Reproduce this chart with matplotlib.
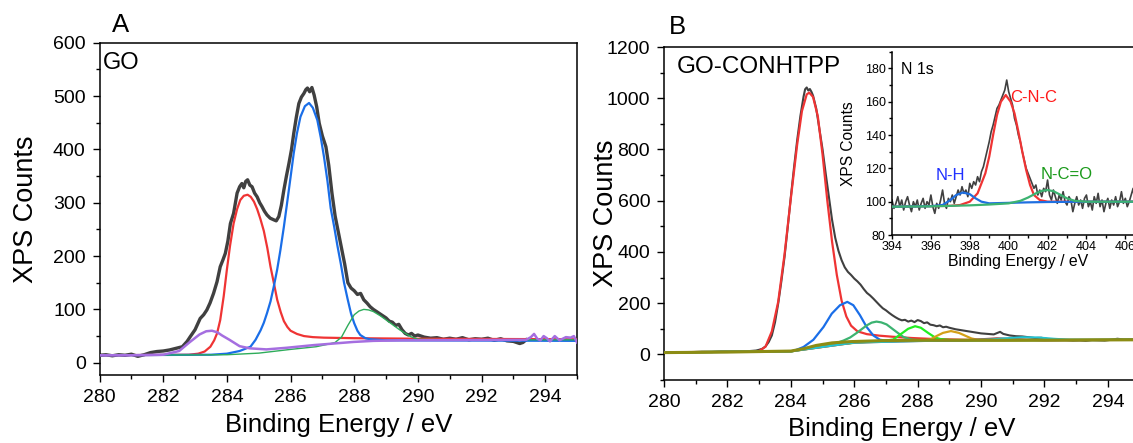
"""XPS C 1s spectra of GO and GO-CONHTPP with N 1s inset."""

import matplotlib

matplotlib.use("Agg")
import matplotlib.pyplot as plt
from matplotlib.ticker import MultipleLocator

plt.rcParams["font.family"] = ["Liberation Sans", "DejaVu Sans"]

# ---- panel A: GO, C 1s ----
a_data_x = [280.0, 280.2, 280.4, 280.6, 280.8, 281.0, 281.2, 281.4, 281.6, 281.8, 282.0, 282.2, 282.4,
            282.6, 282.75, 282.85, 283.0, 283.16, 283.27, 283.37, 283.47, 283.58, 283.69, 283.79, 283.87,
            283.95, 284.03, 284.11, 284.21, 284.32, 284.4, 284.47, 284.53, 284.59, 284.65, 284.72, 284.79,
            284.87, 284.95, 285.03, 285.1, 285.18, 285.26, 285.36, 285.47, 285.55, 285.63, 285.71, 285.79,
            285.87, 285.95, 286.03, 286.1, 286.18, 286.26, 286.34, 286.42, 286.48, 286.53, 286.6, 286.67,
            286.74, 286.82, 286.9, 287.0, 287.11, 287.2, 287.3, 287.4, 287.5, 287.6, 287.7, 287.8, 287.9,
            288.0, 288.1, 288.2, 288.3, 288.4, 288.5, 288.6, 288.7, 288.8, 288.9, 289.0, 289.1, 289.2,
            289.3, 289.4, 289.5, 289.6, 289.7, 289.8, 289.9, 290.0, 290.2, 290.4, 290.6, 290.8, 291.0,
            291.2, 291.4, 291.6, 291.8, 292.0, 292.2, 292.4, 292.6, 292.8, 293.0, 293.2, 293.3, 293.4]
a_data_y = [14, 15, 13, 15, 14, 16, 12, 15, 19, 21, 22, 24, 27,
            30, 40, 49, 62, 83, 90, 99, 112, 130, 152, 180, 192,
            205, 228, 261, 280, 318, 330, 336, 328, 340, 343, 333, 330,
            318, 311, 300, 293, 284, 277, 271, 268, 266, 274, 295, 324,
            350, 374, 400, 430, 460, 486, 498, 505, 512, 515, 508, 516,
            502, 480, 449, 425, 405, 370, 318, 275, 245, 215, 185, 150, 140,
            135, 128, 130, 118, 112, 105, 100, 96, 92, 88, 84, 78, 76,
            70, 72, 62, 55, 52, 55, 50, 52, 48, 46, 47, 44, 46,
            44, 47, 43, 45, 44, 46, 42, 45, 41, 40, 36, 38, 43]

a_red_x = [280.0, 282.8, 283.1, 283.3, 283.48, 283.6, 283.69, 283.79, 283.9, 284.0, 284.1, 284.21,
           284.32, 284.42, 284.53, 284.65, 284.75, 284.85, 284.95, 285.05, 285.16, 285.27, 285.37,
           285.48, 285.58, 285.69, 285.79, 285.9, 286.0, 286.2, 286.42, 286.7, 287.05, 288.0, 290.0,
           295.0]
a_red_y = [14, 15, 17, 21, 30, 42, 55, 80, 125, 175, 220, 261,
           288, 305, 313, 315, 311, 302, 288, 270, 247, 215, 180,
           148, 118, 95, 78, 67, 60, 54, 50, 48, 47, 46, 45,
           44]

a_blue_x = [280.0, 283.5, 284.0, 284.4, 284.74, 284.9, 285.06, 285.16, 285.26, 285.37, 285.47, 285.58,
            285.68, 285.79, 285.89, 286.0, 286.1, 286.2, 286.31, 286.45, 286.58, 286.7, 286.84, 286.95,
            287.05, 287.16, 287.26, 287.37, 287.47, 287.58, 287.68, 287.79, 287.9, 288.0, 288.1, 288.19,
            288.35, 288.5, 289.0, 295.0]
a_blue_y = [14, 15, 17, 22, 30, 43, 61, 75, 93, 115, 142, 175,
            211, 255, 299, 348, 393, 430, 461, 481, 487, 478, 455, 422,
            386, 340, 290, 255, 220, 185, 150, 120, 92, 74, 60, 52,
            46, 44, 42, 41]

a_green_x = [280.0, 284.0, 285.0, 286.0, 286.8, 287.2, 287.4, 287.6, 287.8, 288.0, 288.15, 288.3,
             288.45, 288.6, 288.82, 289.1, 289.42, 289.77, 290.0, 291.0, 295.0]
a_green_y = [14, 15, 18, 25, 30, 35, 38, 48, 70, 90, 97, 100,
             99, 96, 88, 76, 62, 49, 44, 43, 43]

a_purple_x = [280.0, 281.0, 282.0, 282.5, 282.82, 283.14, 283.35, 283.53, 283.7, 283.85, 284.08,
              284.4, 284.72, 285.24, 285.87, 286.72, 287.35, 287.98, 288.6, 289.5, 293.4,
              293.55, 293.65, 293.75, 293.85, 293.95, 294.05, 294.15, 294.3, 294.45, 294.55,
              294.65, 294.8, 294.9, 295.0]
a_purple_y = [14, 14, 15, 22, 38, 53, 59, 60, 57, 51, 43,
              31, 27, 25, 28, 33, 36, 39, 41, 42, 43,
              48, 54, 45, 42, 50, 46, 40, 50, 42, 45,
              48, 47, 50, 38]

# ---- panel B: GO-CONHTPP, C 1s ----
b_data_x = [280.0, 280.3, 280.6, 280.9, 281.2, 281.5, 281.8, 282.1, 282.4, 282.7, 282.9, 283.0,
            283.1, 283.2, 283.3, 283.4, 283.5, 283.6, 283.7, 283.8, 283.9, 284.0, 284.1, 284.2,
            284.3, 284.4, 284.45, 284.5, 284.55, 284.6, 284.65, 284.7, 284.8, 284.9, 285.0, 285.1,
            285.2, 285.3, 285.4, 285.5, 285.6, 285.7, 285.8, 285.9, 286.0, 286.1, 286.2, 286.3,
            286.4, 286.5, 286.6, 286.7, 286.8, 286.9, 287.0, 287.1, 287.2, 287.3, 287.4, 287.5,
            287.6, 287.7, 287.8, 287.9, 288.0, 288.1, 288.2, 288.3, 288.4, 288.5, 288.6, 288.7,
            288.8, 288.9, 289.0, 289.2, 289.4, 289.6, 289.8, 290.0, 290.2, 290.4, 290.6, 290.7,
            290.9, 291.1, 291.3, 291.5, 291.7, 291.9, 292.1, 292.3, 292.5, 292.7, 292.9, 293.1,
            293.3, 293.5, 293.7, 293.9, 294.1, 294.3, 294.5, 294.7, 294.9, 295.0]
b_data_y = [8, 9, 8, 9, 10, 9, 11, 11, 12, 13, 15, 18,
            22, 31, 48, 74, 125, 198, 285, 380, 495, 615, 730, 837,
            930, 1006, 1035, 1042, 1030, 1036, 1025, 1010, 960, 880, 800, 705,
            615, 525, 455, 405, 368, 340, 322, 310, 296, 285, 272, 255,
            240, 230, 218, 205, 192, 180, 172, 162, 153, 145, 138, 133,
            135, 128, 132, 126, 134, 130, 122, 125, 116, 114, 110, 113,
            106, 108, 104, 98, 94, 90, 86, 82, 80, 78, 88, 80,
            74, 71, 70, 67, 64, 65, 60, 58, 57, 56, 54, 55,
            53, 56, 55, 54, 57, 61, 58, 59, 57, 58]

b_red_x = [280.0, 282.5, 283.0, 283.2, 283.4, 283.6, 283.8, 284.0, 284.2, 284.35, 284.5, 284.58,
           284.7, 284.85, 285.0, 285.15, 285.3, 285.45, 285.6, 285.75, 285.9, 286.1, 286.4, 286.8,
           287.2, 287.8, 288.5, 289.5, 292.0, 295.0]
b_red_y = [8, 11, 13, 30, 90, 205, 390, 610, 820, 950, 1015, 1022,
           1005, 930, 780, 600, 440, 310, 210, 148, 112, 90, 79, 73,
           69, 64, 60, 57, 56, 57]

b_blue_x = [280.0, 283.5, 284.08, 284.4, 284.71, 285.03, 285.29, 285.55, 285.78, 285.97, 286.18,
            286.39, 286.6, 286.81, 287.13, 287.5, 289.0, 292.0, 295.0]
b_blue_y = [8, 11, 13, 29, 57, 107, 159, 192, 205, 192, 153,
            107, 74, 57, 52, 53, 55, 56, 57]

b_green_x = [280.0, 284.0, 285.0, 285.45, 285.66, 285.87, 286.08, 286.39, 286.55, 286.7, 286.85,
             287.02, 287.34, 287.55, 287.8, 288.2, 290.0, 295.0]
b_green_y = [8, 12, 35, 45, 54, 66, 84, 113, 124, 128, 125,
             117, 87, 68, 58, 54, 55, 57]

b_lime_x = [280.0, 284.0, 285.5, 286.5, 287.0, 287.23, 287.5, 287.7, 287.92, 288.1, 288.34, 288.55,
            288.71, 289.0, 292.0, 295.0]
b_lime_y = [8, 12, 40, 50, 54, 58, 82, 100, 110, 104, 83, 66,
            60, 56, 56, 57]

b_gold_x = [280.0, 284.0, 286.0, 287.5, 288.2, 288.4, 288.6, 288.8, 289.05, 289.3, 289.5, 289.7,
            289.9, 290.5, 295.0]
b_gold_y = [8, 12, 46, 53, 55, 58, 72, 84, 91, 84, 73, 62,
            57, 55, 57]

b_brown_x = [280.0, 284.0, 286.0, 288.0, 289.5, 290.0, 290.5, 291.0, 291.5, 292.0, 295.0]
b_brown_y = [8, 12, 46, 52, 55, 59, 63, 61, 57, 55, 57]

b_cyan_x = [280.0, 284.0, 286.0, 288.0, 289.5, 290.3, 290.8, 291.3, 291.8, 292.3, 292.8, 293.5, 295.0]
b_cyan_y = [8, 12, 46, 52, 55, 58, 63, 67, 66, 61, 57, 56, 57]

b_base_x = [280.0, 281.0, 282.0, 283.0, 284.0, 284.4, 284.8, 285.3, 285.9, 287.0, 288.0, 290.0,
            293.0, 295.0]
b_base_y = [7, 8, 9, 11, 13, 22, 35, 45, 50, 54, 55, 55, 56, 57]

# ---- inset: N 1s ----
n_data_x = [round(394.0 + 0.1 * i, 1) for i in range(128)]
n_data_y = [101, 96, 99, 103, 97, 101, 95, 100, 103, 98,
            94, 100, 97, 101, 95, 99, 102, 96, 100, 98,
            104, 97, 93, 99, 96, 101, 107, 99, 96, 102,
            100, 104, 99, 103, 107, 104, 109, 105, 107, 103,
            111, 108, 112, 110, 115, 112, 118, 121, 126, 131,
            136, 142, 146, 151, 156, 158, 161, 164, 167, 173,
            166, 162, 158, 150, 146, 140, 136, 130, 125, 120,
            117, 114, 111, 108, 110, 104, 107, 103, 108, 106,
            113, 104, 101, 107, 103, 99, 104, 101, 106, 100,
            98, 103, 101, 94, 99, 103, 98, 101, 96, 102,
            104, 97, 100, 95, 103, 99, 105, 97, 101, 94,
            99, 102, 96, 101, 98, 103, 97, 100, 106, 99,
            102, 97, 100, 104, 108, 99, 96, 103]

n_red_x = [394.0, 397.0, 397.5, 398.0, 398.4, 398.8, 399.0, 399.2, 399.4, 399.6, 399.85, 400.1,
           400.3, 400.5, 400.7, 400.9, 401.1, 401.3, 401.6, 402.0, 403.0, 407.0]
n_red_y = [97, 97.5, 98, 100, 105, 117, 127, 140, 152, 160, 164, 160,
           153, 142, 130, 119, 110, 104, 101, 100, 100, 100]

n_blue_x = [394.0, 396.0, 396.6, 397.0, 397.3, 397.65, 398.0, 398.3, 398.6, 399.0, 400.0, 401.0,
            402.0, 404.0, 407.0]
n_blue_y = [97, 97.3, 98, 101, 104, 105.5, 104.5, 102, 100, 99, 99.3, 99.6,
            99.8, 100, 100]

n_green_x = [394.0, 396.0, 398.0, 399.0, 400.0, 400.6, 401.0, 401.4, 401.7, 402.0, 402.3, 402.6,
             403.0, 403.4, 404.0, 407.0]
n_green_y = [97, 97.2, 97.8, 98.3, 99, 100.5, 102.5, 105, 106.5, 107, 106.3, 104.5,
             102, 100.5, 100, 100]

GRAY = "#404040"
RED = "#ef3434"
BLUE = "#1a6ee8"


def style_axes(ax, fs=14, major=5, minor=3, pad=5):
    ax.tick_params(which="both", direction="out", top=False, right=False,
                   labelsize=fs, width=1.0, pad=pad)
    ax.tick_params(which="major", length=major)
    ax.tick_params(which="minor", length=minor)
    for sp in ax.spines.values():
        sp.set_linewidth(1.1)


def main():
    fig = plt.figure(figsize=(11.33, 4.43), dpi=100)

    # Panel A
    ax = fig.add_axes([0.0879, 0.1535, 0.4214, 0.7501])
    ax.plot(a_data_x, a_data_y, color=GRAY, lw=2.4, zorder=2)
    ax.plot(a_red_x, a_red_y, color=RED, lw=1.6, zorder=3)
    ax.plot(a_blue_x, a_blue_y, color=BLUE, lw=1.6, zorder=3)
    ax.plot(a_green_x, a_green_y, color="#2eac5a", lw=1.0, zorder=3)
    ax.plot(a_purple_x, a_purple_y, color="#a56ee0", lw=1.8, zorder=4)
    ax.set_xlim(280, 295)
    ax.set_ylim(-23, 600)
    ax.xaxis.set_major_locator(MultipleLocator(2))
    ax.xaxis.set_minor_locator(MultipleLocator(1))
    ax.yaxis.set_major_locator(MultipleLocator(100))
    ax.yaxis.set_minor_locator(MultipleLocator(50))
    style_axes(ax)
    ax.set_xlabel("Binding Energy / eV", fontsize=18.5)
    ax.set_ylabel("XPS Counts", fontsize=19.5)
    ax.xaxis.set_label_coords(0.5, -0.114)
    ax.yaxis.set_label_coords(-0.127, 0.5)
    ax.text(0.006, 0.94, "GO", transform=ax.transAxes, fontsize=17, va="center", ha="left")
    fig.text(0.106, 0.944, "A", fontsize=18.5, ha="center", va="center")

    # Panel B
    bx = fig.add_axes([0.5861, 0.1422, 0.4197, 0.7517])
    bx.plot(b_data_x, b_data_y, color=GRAY, lw=1.5, zorder=2)
    bx.plot(b_red_x, b_red_y, color=RED, lw=1.6, zorder=3)
    bx.plot(b_blue_x, b_blue_y, color=BLUE, lw=1.6, zorder=3)
    bx.plot(b_green_x, b_green_y, color="#3cb371", lw=1.6, zorder=3)
    bx.plot(b_lime_x, b_lime_y, color="#22ee22", lw=1.6, zorder=3)
    bx.plot(b_gold_x, b_gold_y, color="#d4a017", lw=1.6, zorder=3)
    bx.plot(b_brown_x, b_brown_y, color="#a85050", lw=1.5, zorder=3)
    bx.plot(b_cyan_x, b_cyan_y, color="#22c4d4", lw=1.5, zorder=3)
    bx.plot(b_base_x, b_base_y, color="#8c8c14", lw=2.2, zorder=4)
    bx.set_xlim(280, 295)
    bx.set_ylim(-100, 1200)
    bx.xaxis.set_major_locator(MultipleLocator(2))
    bx.xaxis.set_minor_locator(MultipleLocator(1))
    bx.yaxis.set_major_locator(MultipleLocator(200))
    bx.yaxis.set_minor_locator(MultipleLocator(100))
    style_axes(bx)
    bx.set_xlabel("Binding Energy / eV", fontsize=18.5)
    bx.set_ylabel("XPS Counts", fontsize=19.5)
    bx.xaxis.set_label_coords(0.5, -0.110)
    bx.yaxis.set_label_coords(-0.095, 0.5)
    bx.text(0.027, 0.941, "GO-CONHTPP", transform=bx.transAxes, fontsize=17.5,
            va="center", ha="left")
    fig.text(0.598, 0.94, "B", fontsize=18.5, ha="center", va="center")

    # Inset N 1s
    ix = fig.add_axes([0.7873, 0.4695, 0.2231, 0.4138])
    ix.plot(n_data_x, n_data_y, color=GRAY, lw=1.2, zorder=2)
    ix.plot(n_red_x, n_red_y, color=RED, lw=1.6, zorder=3)
    ix.plot(n_blue_x, n_blue_y, color="#1f6fe0", lw=1.6, zorder=3)
    ix.plot(n_green_x, n_green_y, color="#3cb371", lw=1.6, zorder=4)
    ix.set_xlim(394, 407)
    ix.set_ylim(80, 190)
    ix.xaxis.set_major_locator(MultipleLocator(2))
    ix.xaxis.set_minor_locator(MultipleLocator(1))
    ix.yaxis.set_minor_locator(MultipleLocator(10))
    ix.set_yticks([80, 100, 120, 140, 160, 180])
    style_axes(ix, fs=9, major=3, minor=2, pad=1.5)
    ix.spines["top"].set_visible(False)
    ix.spines["right"].set_visible(False)
    ix.patch.set_alpha(0)
    ix.set_xlabel("Binding Energy / eV", fontsize=11.4)
    ix.set_ylabel("XPS Counts", fontsize=11.2)
    ix.xaxis.set_label_coords(0.5, -0.102)
    ix.yaxis.set_label_coords(-0.142, 0.5)
    ix.text(0.036, 0.904, "N 1s", transform=ix.transAxes, fontsize=11.5, va="center", ha="left")
    ix.text(397.0, 115.9, "N-H", color="#1f2fff", fontsize=12, ha="center", va="center")
    ix.text(401.3, 162.8, "C-N-C", color="#ff1a1a", fontsize=12, ha="center", va="center")
    ix.text(403.0, 116.3, "N-C=O", color="#1a9a1a", fontsize=12, ha="center", va="center")

    fig.savefig("out.png", dpi=100, facecolor="white")


if __name__ == "__main__":
    main()
